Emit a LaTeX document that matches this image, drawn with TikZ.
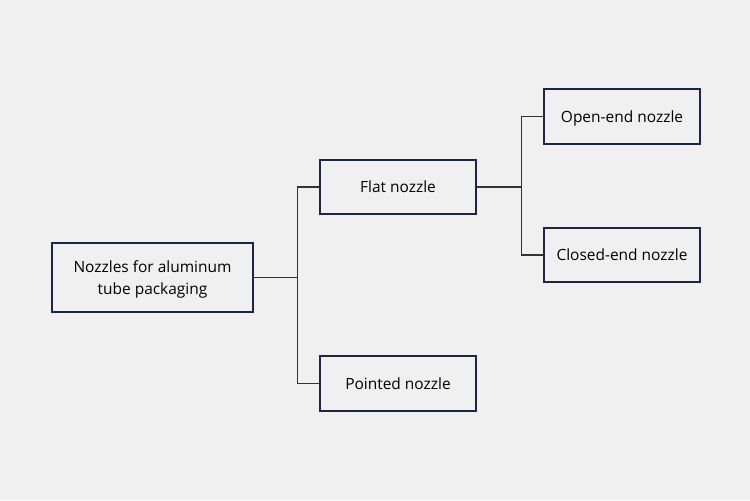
\documentclass[tikz,border=0pt]{standalone}
\usepackage{fontspec}
\setmainfont{Open Sans}
\definecolor{bg}{HTML}{F0F0F0}
\definecolor{boxline}{HTML}{1E2448}
\definecolor{conn}{HTML}{333333}
\begin{document}
\begin{tikzpicture}[x=0.75pt,y=-0.75pt,
  box/.style={draw=boxline,fill=bg,line width=0.9pt,font=\fontsize{11.6}{17}\selectfont,align=center,inner sep=0pt,text depth=0pt},
  leaf/.style={box,minimum width=156*0.75pt,text height=8.6pt},
  link/.style={draw=conn,line width=0.9pt}]
\fill[bg] (0,0) rectangle (750,500);
\useasboundingbox (0,0) rectangle (750,500);
\node[box,minimum width=201*0.75pt,minimum height=69*0.75pt] (root) at (152.5,277.5) {Nozzles for aluminum\\tube packaging};
\node[leaf,minimum height=54*0.75pt] (flat) at (398,187) {Flat nozzle};
\node[leaf,minimum height=55*0.75pt] (point) at (398,383.5) {Pointed nozzle};
\node[leaf,minimum height=55*0.75pt] (open) at (622,116.5) {Open-end nozzle};
\node[leaf,minimum height=54*0.75pt] (closed) at (622,255) {Closed-end nozzle};
\draw[link] (root.east) -- ++(44,0) coordinate (j1);
\draw[link] (j1) |- (flat.west);
\draw[link] (j1) |- (point.west);
\draw[link] (flat.east) -- ++(45,0) coordinate (j2);
\draw[link] (j2) |- (open.west);
\draw[link] (j2) |- (closed.west);
\end{tikzpicture}
\end{document}
